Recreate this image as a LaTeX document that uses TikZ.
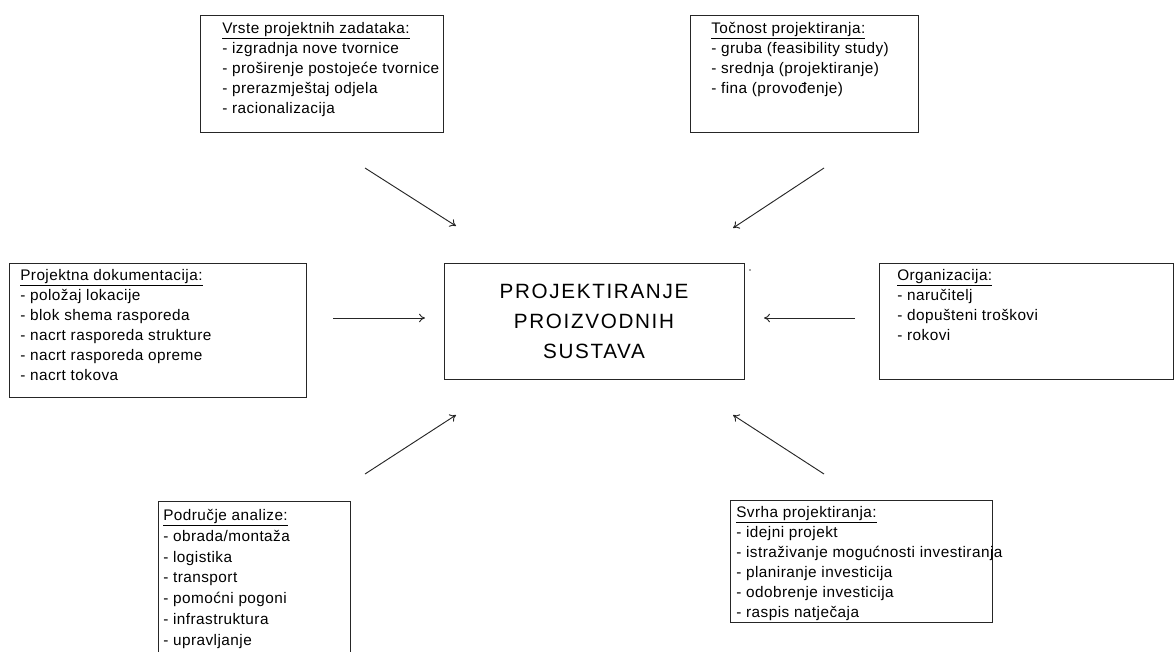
\documentclass[tikz,border=0pt]{standalone}
\usepackage{fontspec}
\setmainfont{Liberation Sans}
\usetikzlibrary{arrows.meta}
\begin{document}
\begin{tikzpicture}[x=0.75pt,y=-0.75pt,
  box/.style={draw=black!85,line width=0.9pt,rectangle,inner sep=0pt,anchor=north west},
  txt/.style={anchor=north west,align=left,inner sep=0pt,font=\fontsize{11.5pt}{15pt}\selectfont\addfontfeature{LetterSpace=3}},
  big/.style={align=center,inner sep=0pt,font=\fontsize{15.5pt}{22.5pt}\selectfont\addfontfeature{LetterSpace=8}},
  arr/.style={-{To[length=4.5pt,width=6.5pt]},line width=0.7pt,black!85}]
\useasboundingbox (0,0) rectangle (1174,651);
% boxes
\node[box,minimum width=243*0.75pt,minimum height=117*0.75pt] (tl) at (200,15) {};
\node[txt] (tlt) at (222,22) {\underline{Vrste projektnih zadataka:}\\- izgradnja nove tvornice\\- proširenje postojeće tvornice\\- prerazmještaj odjela\\- racionalizacija};
\node[box,minimum width=228*0.75pt,minimum height=117*0.75pt] (tr) at (690,15) {};
\node[txt] (trt) at (711,22) {\underline{Točnost projektiranja:}\\- gruba (feasibility study)\\- srednja (projektiranje)\\- fina (provođenje)};
\node[box,minimum width=297*0.75pt,minimum height=134*0.75pt] (l) at (9,263) {};
\node[txt] (lt) at (20,269) {\underline{Projektna dokumentacija:}\\- položaj lokacije\\- blok shema rasporeda\\- nacrt rasporeda strukture\\- nacrt rasporeda opreme\\- nacrt tokova};
\node[box,minimum width=300*0.75pt,minimum height=116*0.75pt] (c) at (444,263) {};
\node[big] (ct) at (594,321) {PROJEKTIRANJE\\PROIZVODNIH\\SUSTAVA};
\node[circle,fill=black!70,inner sep=0pt,minimum size=1.2pt] (dot) at (750,270) {};
\node[box,minimum width=294*0.75pt,minimum height=116*0.75pt] (r) at (879,263) {};
\node[txt] (rt) at (897,269) {\underline{Organizacija:}\\- naručitelj\\- dopušteni troškovi\\- rokovi};
\node[box,minimum width=192*0.75pt,minimum height=160*0.75pt] (bl) at (158,501) {};
\node[txt,font=\fontsize{11.5pt}{15.6pt}\selectfont\addfontfeature{LetterSpace=3}] (blt) at (163,509) {\underline{Područje analize:}\\- obrada/montaža\\- logistika\\- transport\\- pomoćni pogoni\\- infrastruktura\\- upravljanje};
\node[box,minimum width=262*0.75pt,minimum height=122*0.75pt] (br) at (730,500) {};
\node[txt] (brt) at (736,506) {\underline{Svrha projektiranja:}\\- idejni projekt\\- istraživanje mogućnosti investiranja\\- planiranje investicija\\- odobrenje investicija\\- raspis natječaja};
% arrow end points
\coordinate (a1s) at (365,168); \coordinate (a1e) at (456,226);
\coordinate (a2s) at (824,168); \coordinate (a2e) at (733,228);
\coordinate (a3s) at (333,318); \coordinate (a3e) at (425,318);
\coordinate (a4s) at (855,318); \coordinate (a4e) at (764,318);
\coordinate (a5s) at (365,474); \coordinate (a5e) at (456,415);
\coordinate (a6s) at (824,474); \coordinate (a6e) at (733,415);
\draw[arr] (a1s) -- (a1e);
\draw[arr] (a2s) -- (a2e);
\draw[arr] (a3s) -- (a3e);
\draw[arr] (a4s) -- (a4e);
\draw[arr] (a5s) -- (a5e);
\draw[arr] (a6s) -- (a6e);
\end{tikzpicture}
\end{document}
